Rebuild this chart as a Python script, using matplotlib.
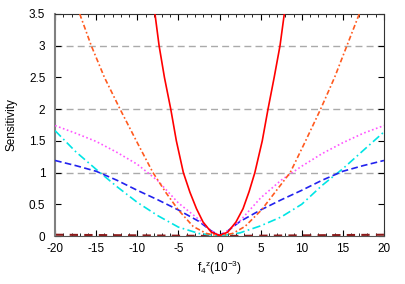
import matplotlib
matplotlib.use("Agg")
import matplotlib.pyplot as plt
from matplotlib.ticker import MultipleLocator

plt.rcParams['font.family'] = ['Liberation Sans', 'DejaVu Sans']
plt.rcParams['mathtext.default'] = 'regular'
plt.rcParams['axes.unicode_minus'] = False

# Data
red_x = [-7.85, -7.35, -6.7, -5.93, -5.25, -4.4, -3.6, -2.8, -2.0, -1.0, 0.0,
         1.0, 2.0, 2.86, 3.6, 4.3, 5.2, 5.9, 6.65, 7.36, 7.88]
red_y = [3.5, 3.0, 2.5, 2.0, 1.5, 1.0, 0.69, 0.43, 0.22, 0.06, 0.01,
         0.06, 0.22, 0.43, 0.7, 1.0, 1.5, 2.0, 2.5, 3.0, 3.5]

orange_x = [-17.0, -15.6, -14.0, -12.1, -10.0, -8.1, -6.5, -5.0, -3.2, -1.6, 0.0,
            1.6, 3.1, 5.1, 6.7, 8.6, 10.4, 12.3, 14.0, 15.5, 17.0]
orange_y = [3.5, 3.0, 2.5, 2.0, 1.47, 1.0, 0.68, 0.41, 0.15, 0.04, 0.0,
            0.04, 0.15, 0.41, 0.68, 1.0, 1.48, 2.0, 2.5, 3.0, 3.5]

magenta_x = [-20, -17.5, -15, -12.5, -10, -7.5, -5, -2.5, -1, 0,
             1, 2.5, 5, 7.5, 10, 12.5, 15, 17.5, 20]
magenta_y = [1.74, 1.62, 1.49, 1.32, 1.13, 0.87, 0.52, 0.26, 0.08, 0.01,
             0.08, 0.24, 0.6, 0.88, 1.1, 1.3, 1.47, 1.62, 1.74]

blue_x = [-20, -17.5, -15, -12.5, -10, -7.5, -5, -2.5, -1, 0,
          1, 2.5, 5, 7.5, 10, 12.5, 15, 17.5, 20]
blue_y = [1.19, 1.11, 1.02, 0.88, 0.72, 0.57, 0.41, 0.23, 0.08, 0.01,
          0.08, 0.23, 0.41, 0.57, 0.72, 0.88, 1.02, 1.11, 1.19]

cyan_x = [-20, -17.5, -15, -12.5, -10, -7.5, -5, -2.5, 0,
          2.5, 5, 7.5, 10, 12.5, 15, 17.5, 20]
cyan_y = [1.66, 1.33, 1.05, 0.78, 0.53, 0.32, 0.14, 0.04, 0.0,
          0.05, 0.16, 0.3, 0.5, 0.8, 1.06, 1.35, 1.64]

dark_x = [-20, -10, 0, 10, 20]
dark_y = [0.02, 0.01, 0.0, 0.01, 0.02]

grid_levels = [1, 2, 3]

fig = plt.figure(figsize=(4.05, 2.84), dpi=100)
ax = fig.add_axes([0.136, 0.169, 0.812, 0.782])

for g in grid_levels:
    ax.axhline(g, color='#aaaaaa', lw=1.0, dashes=(5, 3), zorder=1)

ax.plot(dark_x, dark_y, color='#8b1a1a', lw=1.5, dashes=(4, 3), zorder=2)
ax.plot(cyan_x, cyan_y, color='#00e5e5', lw=1.2, dashes=(5, 2, 1, 2), zorder=3)
ax.plot(blue_x, blue_y, color='#2222ee', lw=1.2, dashes=(4, 2), zorder=3)
ax.plot(magenta_x, magenta_y, color='#ff55ff', lw=1.2, dashes=(1, 1.5), zorder=3)
ax.plot(orange_x, orange_y, color='#ff5a1f', lw=1.2, dashes=(3, 1.5, 1, 1.5), zorder=3)
ax.plot(red_x, red_y, color='#ff0000', lw=1.2, zorder=4)

ax.set_xlim(-20, 20)
ax.set_ylim(0, 3.5)
ax.xaxis.set_major_locator(MultipleLocator(5))
ax.xaxis.set_minor_locator(MultipleLocator(1))
ax.set_yticks([0, 0.5, 1, 1.5, 2, 2.5, 3, 3.5])
ax.set_yticklabels(['0', '0.5', '1', '1.5', '2', '2.5', '3', '3.5'])
ax.tick_params(which='both', direction='in', top=True, right=True, labelsize=8.5)
ax.tick_params(axis='y', pad=7)
ax.tick_params(axis='x', pad=5)
ax.tick_params(which='major', length=4, width=0.8)
ax.tick_params(which='minor', length=2, width=0.6)

ax.spines['left'].set_color('#808080')
ax.spines['left'].set_linewidth(1.5)
ax.spines['bottom'].set_color('#555555')
ax.spines['top'].set_color('#333333')
ax.spines['right'].set_color('#333333')

ax.set_ylabel('Sensitivity', fontsize=8.5, labelpad=8)
ax.set_xlabel(r'f$_4{}^{z}$(10$^{-3}$)', fontsize=8.5, labelpad=3)

fig.savefig('out.png', dpi=100)
